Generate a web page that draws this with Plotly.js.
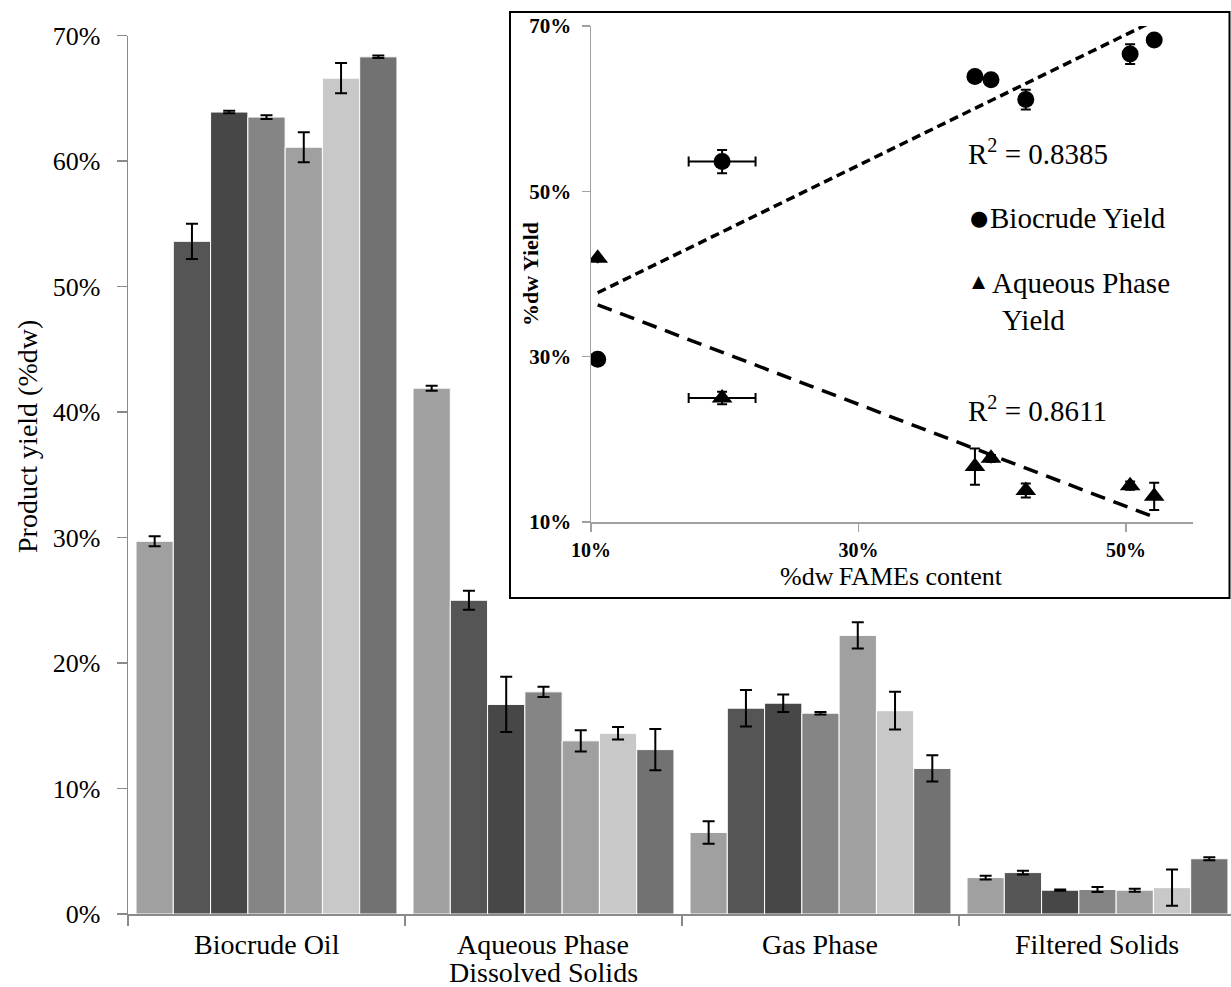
<!DOCTYPE html>
<html>
<head>
<meta charset="utf-8">
<script src="https://cdn.plot.ly/plotly-3.0.1.min.js"></script>
<style>html,body{margin:0;padding:0;background:#fff;}#chart{width:1231px;height:987px;}</style>
</head>
<body>
<div id="chart"></div>
<script>
// ---- Data (values in %dw) ----
const categories = ['Biocrude Oil', 'Aqueous Phase<br>Dissolved Solids', 'Gas Phase', 'Filtered Solids'];
const biocrude    = [29.7, 53.6, 63.9, 63.5, 61.1, 66.6, 68.3];
const biocrudeErr = [0.4, 1.4, 0.1, 0.15, 1.2, 1.2, 0.1];
const aqueous     = [41.9, 25.0, 16.7, 17.7, 13.8, 14.4, 13.1];
const aqueousErr  = [0.2, 0.75, 2.2, 0.4, 0.85, 0.5, 1.65];
const gas         = [6.5, 16.4, 16.8, 16.0, 22.2, 16.2, 11.6];
const gasErr      = [0.9, 1.45, 0.7, 0.1, 1.05, 1.5, 1.05];
const solids      = [2.9, 3.3, 1.9, 1.95, 1.9, 2.1, 4.4];
const solidsErr   = [0.15, 0.15, 0.05, 0.2, 0.12, 1.45, 0.12];
// Inset: FAMEs content of each sample
const fames    = [10.5, 19.8, 38.7, 39.9, 42.5, 50.3, 52.1];
const famesErr = [0, 2.5, 0, 0, 0, 0, 0];
const r2Labels = ['0.8385', '0.8611'];
const yTicks = [0, 10, 20, 30, 40, 50, 60, 70];
const insetXTicks = [10, 30, 50];
const insetYTicks = [10, 30, 50, 70];
const pct = v => v + '%';

const barColors = ['#a0a0a0', '#555555', '#474747', '#858585', '#a0a0a0', '#c8c8c8', '#727272'];
const FONT = 'Liberation Serif, Times New Roman, serif';

const traces = [];
for (let i = 0; i < biocrude.length; i++) {
  traces.push({
    type: 'bar', x: categories,
    y: [biocrude[i], aqueous[i], gas[i], solids[i]],
    error_y: {type: 'data', array: [biocrudeErr[i], aqueousErr[i], gasErr[i], solidsErr[i]],
              color: '#000', thickness: 2, width: 6},
    marker: {color: barColors[i], line: {color: '#ffffff', width: 1}},
    name: 'Sample ' + (i + 1), hoverinfo: 'y'
  });
}

function fit(xs, ys) {
  const n = xs.length;
  const mx = xs.reduce((a, b) => a + b, 0) / n;
  const my = ys.reduce((a, b) => a + b, 0) / n;
  let sxy = 0, sxx = 0;
  for (let i = 0; i < n; i++) {
    sxy += (xs[i] - mx) * (ys[i] - my);
    sxx += (xs[i] - mx) ** 2;
  }
  const slope = sxy / sxx, icpt = my - slope * mx;
  const x0 = Math.min(...xs), x1 = Math.max(...xs);
  return {x: [x0, x1], y: [icpt + slope * x0, icpt + slope * x1]};
}
const fitB = fit(fames, biocrude);
const fitA = fit(fames, aqueous);

traces.push({type: 'scatter', mode: 'lines', xaxis: 'x2', yaxis: 'y2', x: fitB.x, y: fitB.y,
  line: {color: '#000', width: 3.5, dash: '9px,5px'}, hoverinfo: 'skip'});
traces.push({type: 'scatter', mode: 'lines', xaxis: 'x2', yaxis: 'y2', x: fitA.x, y: fitA.y,
  line: {color: '#000', width: 3.5, dash: '15px,9px'}, hoverinfo: 'skip'});
traces.push({type: 'scatter', mode: 'markers', xaxis: 'x2', yaxis: 'y2', x: fames, y: biocrude,
  name: 'Biocrude Yield',
  marker: {symbol: 'circle', size: 17, color: '#000'},
  error_y: {type: 'data', array: biocrudeErr, color: '#000', thickness: 2, width: 5},
  error_x: {type: 'data', array: famesErr, color: '#000', thickness: 2, width: 5}});
traces.push({type: 'scatter', mode: 'markers', xaxis: 'x2', yaxis: 'y2', x: fames, y: aqueous,
  name: 'Aqueous Phase Yield',
  marker: {symbol: 'triangle-up', size: 18, color: '#000'},
  error_y: {type: 'data', array: aqueousErr, color: '#000', thickness: 2, width: 5},
  error_x: {type: 'data', array: famesErr, color: '#000', thickness: 2, width: 5}});

// pixel helpers (plot area: x 128..1231, y 26..914)
const px = x => (x - 128) / 1103;
const py = y => (914 - y) / 888;

const annotations = [];
// category labels (one annotation per text line, Excel-like tight line spacing)
categories.forEach(c => {
  c.split('<br>').forEach((line, k) => {
    annotations.push({text: line, xref: 'x', yref: 'paper', x: c, y: py(944 + 29 * k),
      xanchor: 'center', yanchor: 'middle', showarrow: false,
      font: {family: FONT, size: 28, color: '#000'}});
  });
});
annotations.push(
  {text: 'Product yield (%dw)', xref: 'paper', yref: 'paper', x: px(27), y: py(437),
   xanchor: 'center', yanchor: 'middle',
   textangle: -90, showarrow: false, font: {family: FONT, size: 28, color: '#000'}},
  {text: '%dw Yield', xref: 'paper', yref: 'paper', x: px(530), y: py(274),
   xanchor: 'center', yanchor: 'middle',
   textangle: -90, showarrow: false, font: {family: FONT, size: 22, color: '#000', weight: 'bold'}},
  {text: '%dw\u2009FAMEs content', xref: 'paper', yref: 'paper', x: px(891), y: py(576),
   xanchor: 'center', yanchor: 'middle',
   showarrow: false, font: {family: FONT, size: 26, color: '#000'}},
  {text: 'R<sup>2</sup> = ' + r2Labels[0], xref: 'paper', yref: 'paper', x: px(966), y: py(152),
   xanchor: 'left', yanchor: 'middle', showarrow: false, font: {family: FONT, size: 29, color: '#000'}},
  {text: 'R<sup>2</sup> = ' + r2Labels[1], xref: 'paper', yref: 'paper', x: px(966), y: py(409),
   xanchor: 'left', yanchor: 'middle', showarrow: false, font: {family: FONT, size: 29, color: '#000'}},
  {text: '●', xref: 'paper', yref: 'paper', x: px(979), y: py(218),
   xanchor: 'center', yanchor: 'middle', showarrow: false, font: {family: 'DejaVu Sans', size: 21, color: '#000'}},
  {text: 'Biocrude Yield', xref: 'paper', yref: 'paper', x: px(988), y: py(218),
   xanchor: 'left', yanchor: 'middle', showarrow: false, font: {family: FONT, size: 29, color: '#000'}},
  {text: '▲', xref: 'paper', yref: 'paper', x: px(979), y: py(281),
   xanchor: 'center', yanchor: 'middle', showarrow: false, font: {family: 'DejaVu Sans', size: 17, color: '#000'}},
  {text: 'Aqueous Phase', xref: 'paper', yref: 'paper', x: px(990), y: py(283),
   xanchor: 'left', yanchor: 'middle', showarrow: false, font: {family: FONT, size: 29, color: '#000'}},
  {text: 'Yield', xref: 'paper', yref: 'paper', x: px(1000), y: py(320),
   xanchor: 'left', yanchor: 'middle', showarrow: false, font: {family: FONT, size: 29, color: '#000'}}
);

const layout = {
  width: 1231, height: 987,
  margin: {l: 128, r: 0, t: 26, b: 73},
  paper_bgcolor: '#fff', plot_bgcolor: 'rgba(0,0,0,0)',
  showlegend: false,
  barmode: 'group', bargap: 0.058, bargroupgap: 0,
  font: {family: FONT, color: '#000'},
  xaxis: {domain: [0, 1], type: 'category', range: [-0.5, 3.482],
    showline: true, linecolor: '#8a8a8a', linewidth: 1.5,
    ticks: 'outside', tickson: 'boundaries', ticklen: 10, tickcolor: '#8a8a8a', tickwidth: 1.5,
    showticklabels: false, showgrid: false, zeroline: false},
  yaxis: {domain: [0, py(35.5)], range: [0, 70], tickvals: yTicks, ticktext: yTicks.map(pct),
    showline: true, linecolor: '#8a8a8a', linewidth: 1.5,
    ticks: 'outside', ticklen: 10, tickcolor: '#8a8a8a', tickwidth: 1.5, ticklabelstandoff: 11,
    tickfont: {family: FONT, size: 26, color: '#000'}, showgrid: false, zeroline: false},
  xaxis2: {anchor: 'y2', domain: [px(591), px(1193)], range: [10, 55],
    tickvals: insetXTicks, ticktext: insetXTicks.map(pct),
    showline: true, linecolor: '#a0a0a0', linewidth: 1.5,
    ticks: 'outside', ticklen: 8, tickcolor: '#a0a0a0', tickwidth: 1.5, ticklabelstandoff: 1,
    tickfont: {family: FONT, size: 20, color: '#000', weight: 'bold'}, showgrid: false, zeroline: false},
  yaxis2: {anchor: 'x2', domain: [py(522), 1], range: [10, 70],
    tickvals: insetYTicks, ticktext: insetYTicks.map(pct),
    showline: true, linecolor: '#a0a0a0', linewidth: 1.5,
    ticks: 'outside', ticklen: 8, tickcolor: '#a0a0a0', tickwidth: 1.5, ticklabelstandoff: 6,
    tickfont: {family: FONT, size: 21, color: '#000', weight: 'bold'}, showgrid: false, zeroline: false},
  shapes: [{type: 'rect', xref: 'paper', yref: 'paper', layer: 'below',
    x0: px(510), x1: px(1229.5), y0: py(598), y1: py(12),
    line: {color: '#000', width: 2}, fillcolor: '#fff'}],
  annotations: annotations
};

Plotly.newPlot('chart', traces, layout, {displayModeBar: false, staticPlot: true});
</script>
</body>
</html>
